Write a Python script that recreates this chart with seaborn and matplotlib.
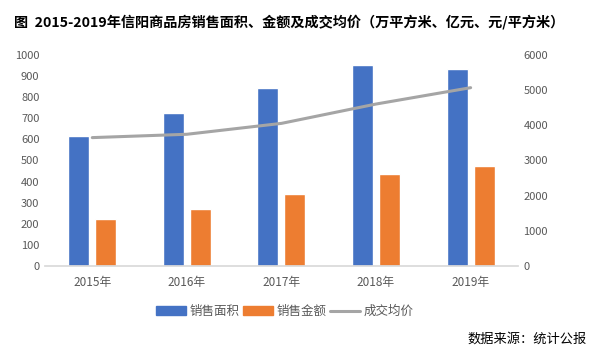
import pandas as pd
import matplotlib.pyplot as plt
import seaborn as sns
from matplotlib.patches import Patch
from matplotlib.lines import Line2D

# Data
years = ['2015年', '2016年', '2017年', '2018年', '2019年']
area = [616, 726, 844, 953, 934]        # 销售面积 (万平方米)
amount = [223, 270, 341, 436, 474]      # 销售金额 (亿元)
price = [3650, 3745, 4055, 4605, 5070]  # 成交均价 (元/平方米)

sns.set_theme(style='white')
plt.rcParams['font.family'] = ['Noto Sans CJK SC', 'DejaVu Sans']

df_bar = pd.DataFrame({
    'year': years * 2,
    'value': area + amount,
    'series': ['销售面积'] * 5 + ['销售金额'] * 5,
})
df_line = pd.DataFrame({'year': years, 'price': price})

fig = plt.figure(figsize=(5.96, 3.57), dpi=100)
ax = fig.add_axes([0.0755, 0.255, 0.7935, 0.591])

sns.barplot(data=df_bar, x='year', y='value', hue='series',
            palette=['#4472c4', '#ed7d31'], width=0.57, gap=0.22,
            saturation=1, ax=ax, legend=False)

ax2 = ax.twinx()
sns.lineplot(data=df_line, x='year', y='price', color='#a5a5a5',
             linewidth=2.2, ax=ax2, sort=False)

# Axis styling
ax.set_xlim(-0.5, 4.5)
ax.set_ylim(0, 1000)
ax.set_yticks(range(0, 1001, 100))
ax2.set_ylim(0, 6000)
ax2.set_yticks(range(0, 6001, 1000))
for a in (ax, ax2):
    a.set_xlabel('')
    a.set_ylabel('')
    for s in ['top', 'left', 'right']:
        a.spines[s].set_visible(False)
    a.spines['bottom'].set_color('#d9d9d9')
    a.tick_params(axis='both', length=0, labelsize=8, colors='#595959', pad=4)
ax2.spines['bottom'].set_visible(False)
ax.tick_params(axis='x', pad=7, labelsize=8.5)

# Legend
handles = [Patch(color='#4472c4', label='销售面积'),
           Patch(color='#ed7d31', label='销售金额'),
           Line2D([0], [0], color='#a5a5a5', linewidth=2.2, label='成交均价')]
fig.legend(handles=handles, loc='center', bbox_to_anchor=(0.478, 0.128), ncol=3,
           frameon=False, fontsize=9, labelcolor='#595959', handlelength=2.4,
           handleheight=0.65, handletextpad=0.25, columnspacing=0.3)

fig.text(0.024, 0.938, '图  2015-2019年信阳商品房销售面积、金额及成交均价（万平方米、亿元、元/平方米）',
         fontsize=10.2, fontweight='bold', color='#000000', va='center', ha='left')
fig.text(0.985, 0.05, '数据来源：统计公报', fontsize=9.5, color='#000000',
         va='center', ha='right')

fig.savefig('out.png', dpi=100)
